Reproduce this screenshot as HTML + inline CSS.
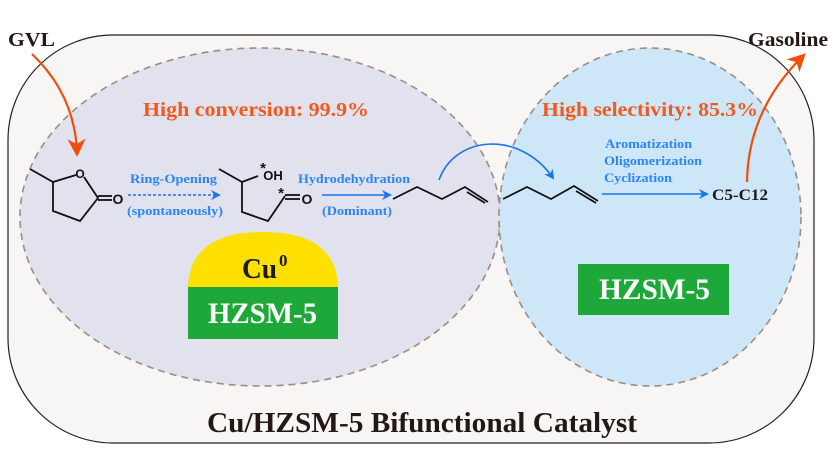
<!DOCTYPE html>
<html><head><meta charset="utf-8"><style>
html,body{margin:0;padding:0;background:#fff;}
svg{display:block;}
text{font-family:"Liberation Serif",serif;font-weight:bold;}
.s{font-family:"Liberation Sans",sans-serif;font-weight:bold;}
</style></head><body>
<svg width="833" height="470" viewBox="0 0 833 470" xmlns="http://www.w3.org/2000/svg">
<defs>
<marker id="bh" markerWidth="10" markerHeight="10" refX="8" refY="5" orient="auto" markerUnits="userSpaceOnUse"><path d="M0,0 L10,5 L0,10 L3,5 Z" fill="#1a73f0"/></marker>
<marker id="oh" markerWidth="18" markerHeight="18" refX="14" refY="9" orient="auto" markerUnits="userSpaceOnUse"><path d="M0,0 L18,9 L0,18 L5,9 Z" fill="#f04e0c"/></marker>
</defs>
<rect x="8" y="35" width="806" height="408" rx="105" ry="105" fill="#f7f6f4" stroke="#222" stroke-width="1.2"/>
<ellipse cx="260" cy="217" rx="240" ry="169" fill="#e2e1ee" stroke="#9a8e84" stroke-width="1.6" stroke-dasharray="7,5"/>
<ellipse cx="650" cy="217" rx="151" ry="169" fill="#cde6f8" stroke="#9a8e84" stroke-width="1.6" stroke-dasharray="7,5"/>
<text x="143" y="116" font-size="20" fill="#f05a1e" textLength="226" lengthAdjust="spacingAndGlyphs">High conversion: 99.9%</text>
<text x="542" y="116" font-size="20" fill="#f05a1e" textLength="216" lengthAdjust="spacingAndGlyphs">High selectivity: 85.3%</text>
<g stroke="#111" stroke-width="1.8" fill="none">
<polyline points="30,169 53,182 76,175"/>
<polyline points="84,177 98,198 80,221 53,211 53,182"/>
<line x1="98" y1="196" x2="112" y2="196"/><line x1="98" y1="200" x2="112" y2="200"/>
<polyline points="219,169 242,182 258,176"/>
<polyline points="242,182 242,212 268,221 285,196"/>
<line x1="285" y1="195" x2="300" y2="195"/><line x1="285" y1="199" x2="300" y2="199"/>
<polyline points="393,199 417,187 442,199 465,187 488,202"/>
<line x1="467" y1="192" x2="485" y2="203"/>
<polyline points="503,199 527,187 551,199 574,186 598,201"/>
<line x1="576" y1="191" x2="596" y2="203"/>
</g>
<text x="80" y="178" class="s" font-size="12" fill="#111" text-anchor="middle">O</text>
<text x="118" y="204" class="s" font-size="14" fill="#111" text-anchor="middle">O</text>
<text x="273" y="180" class="s" font-size="13" fill="#111" text-anchor="middle">OH</text>
<text x="263" y="173" class="s" font-size="15" fill="#111" text-anchor="middle">*</text>
<text x="307" y="204" class="s" font-size="14" fill="#111" text-anchor="middle">O</text>
<text x="281" y="198" class="s" font-size="15" fill="#111" text-anchor="middle">*</text>
<line x1="128" y1="195" x2="219" y2="195" stroke="#1a73f0" stroke-width="1.6" stroke-dasharray="3,2" marker-end="url(#bh)"/>
<text x="130" y="183" font-size="13" fill="#2a86f5" textLength="87" lengthAdjust="spacingAndGlyphs">Ring-Opening</text>
<text x="127" y="215" font-size="13" fill="#2a86f5" textLength="96" lengthAdjust="spacingAndGlyphs">(spontaneously)</text>
<line x1="322" y1="195" x2="390" y2="195" stroke="#1a73f0" stroke-width="1.6" marker-end="url(#bh)"/>
<text x="298" y="183" font-size="13" fill="#2a86f5" textLength="112" lengthAdjust="spacingAndGlyphs">Hydrodehydration</text>
<text x="322" y="215" font-size="13" fill="#2a86f5" textLength="70" lengthAdjust="spacingAndGlyphs">(Dominant)</text>
<path d="M439,180 C455,135 520,130 553,178" stroke="#1a73f0" stroke-width="1.6" fill="none" marker-end="url(#bh)"/>
<line x1="602" y1="194" x2="707" y2="194" stroke="#1a73f0" stroke-width="1.6" marker-end="url(#bh)"/>
<text x="605" y="148" font-size="13" fill="#2a86f5" textLength="87" lengthAdjust="spacingAndGlyphs">Aromatization</text>
<text x="604" y="165" font-size="13" fill="#2a86f5" textLength="98" lengthAdjust="spacingAndGlyphs">Oligomerization</text>
<text x="604" y="182" font-size="13" fill="#2a86f5" textLength="68" lengthAdjust="spacingAndGlyphs">Cyclization</text>
<text x="712" y="200" font-size="16" fill="#1a1a1a" textLength="56" lengthAdjust="spacingAndGlyphs">C5-C12</text>
<path d="M32,54 Q75,95 77,153" stroke="#f04e0c" stroke-width="2.2" fill="none" marker-end="url(#oh)"/>
<path d="M747,182 Q748,110 803,56" stroke="#f04e0c" stroke-width="2.2" fill="none" marker-end="url(#oh)"/>
<text x="8" y="46" font-size="20" fill="#231815" textLength="47" lengthAdjust="spacingAndGlyphs">GVL</text>
<text x="748" y="46" font-size="20" fill="#231815" textLength="80" lengthAdjust="spacingAndGlyphs">Gasoline</text>
<path d="M188,287 Q190,232 263,232 Q336,232 338,287 Z" fill="#fde000"/>
<text x="242" y="278" font-size="28" fill="#1a1a1a" textLength="35" lengthAdjust="spacingAndGlyphs">Cu</text>
<text x="279" y="266" font-size="17" fill="#1a1a1a">0</text>
<rect x="188" y="287" width="150" height="52" fill="#1ea83a"/>
<text x="208" y="323" font-size="30" fill="#fff" textLength="109" lengthAdjust="spacingAndGlyphs">HZSM-5</text>
<rect x="578" y="264" width="151" height="51" fill="#1ea83a"/>
<text x="599" y="299" font-size="30" fill="#fff" textLength="111" lengthAdjust="spacingAndGlyphs">HZSM-5</text>
<text x="207" y="432" font-size="28" fill="#231815" textLength="430" lengthAdjust="spacingAndGlyphs">Cu/HZSM-5 Bifunctional Catalyst</text>
</svg>
</body></html>
